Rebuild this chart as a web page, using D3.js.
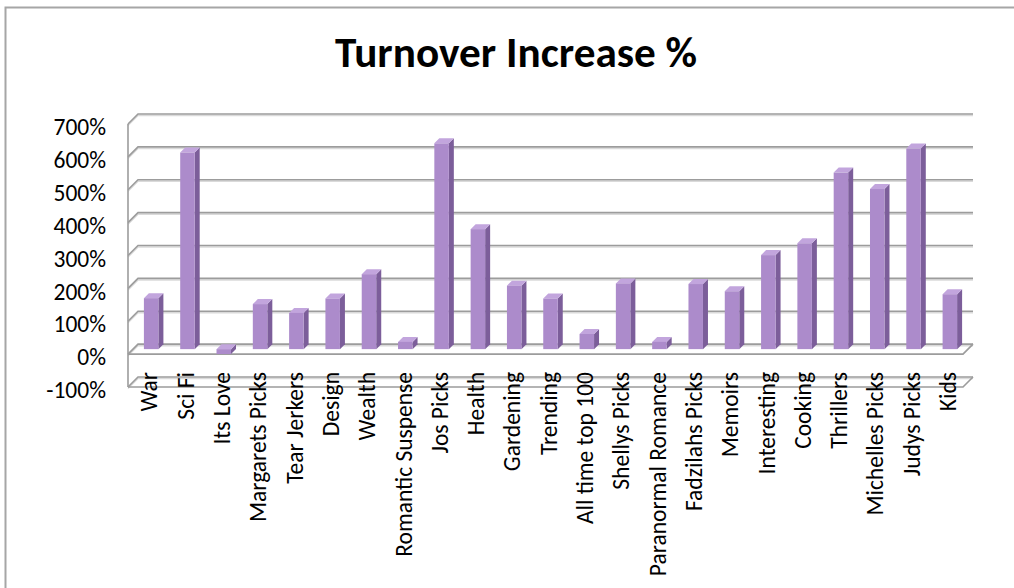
<!DOCTYPE html>
<html>
<head>
<meta charset="utf-8">
<script src="https://cdn.jsdelivr.net/npm/d3@7"></script>
<style>
  body { margin: 0; background: #fff; }
  text { font-family: Calibri, Carlito, "Open Sans", sans-serif; fill: #000; }
</style>
</head>
<body>
<svg id="chart" width="1014" height="588"></svg>
<script>
var categories = ["War", "Sci Fi", "Its Love", "Margarets Picks", "Tear Jerkers", "Design", "Wealth",
  "Romantic Suspense", "Jos Picks", "Health", "Gardening", "Trending", "All time top 100", "Shellys Picks",
  "Paranormal Romance", "Fadzilahs Picks", "Memoirs", "Interesting", "Cooking", "Thrillers",
  "Michelles Picks", "Judys Picks", "Kids"]
var increase = [155, 598, -15, 137, 110, 154, 228, 22, 626, 365, 193, 154, 46, 200, 22, 198, 176, 286, 322,
  537, 487, 610, 167]
var yTicks = [-100, 0, 100, 200, 300, 400, 500, 600, 700]
var title = "Turnover Increase %"

var svg = d3.select("#chart")

// depth offset of the 3d box: front is left and down of the back wall
var dx = -10, dy = 10
var backLeft = 138, backRight = 973

var y = d3.scaleLinear().domain([-100, 700]).range([377, 114])
var x = d3.scaleBand().domain(categories).range([backLeft, backRight])

// outer border
svg.append("rect")
  .attr("x", 5.5).attr("y", 7.5)
  .attr("width", 1030).attr("height", 600)
  .attr("fill", "none")
  .attr("stroke", "#a6a6a6")
  .attr("stroke-width", 2)

svg.append("text")
  .attr("x", 516)
  .attr("y", 67)
  .attr("text-anchor", "middle")
  .attr("font-weight", "bold")
  .attr("font-size", 43)
  .attr("textLength", 362)
  .attr("lengthAdjust", "spacingAndGlyphs")
  .text(title)

var grid = svg.append("g").attr("class", "grid")

function gridPath(v) {
  return "M" + backRight + "," + y(v) + "L" + backLeft + "," + y(v) +
    "L" + (backLeft + dx) + "," + (y(v) + dy)
}

// soft shadow under each line, then the line
grid.selectAll("path.shadow")
  .data(yTicks)
  .enter()
  .append("path")
  .attr("class", "shadow")
  .attr("d", gridPath)
  .attr("transform", "translate(0,1.5)")
  .attr("fill", "none")
  .attr("stroke", "#dadada")
  .attr("stroke-width", 1.5)

grid.selectAll("path.line")
  .data(yTicks)
  .enter()
  .append("path")
  .attr("class", "line")
  .attr("d", gridPath)
  .attr("fill", "none")
  .attr("stroke", "#9c9c9c")
  .attr("stroke-width", 1.6)

// left wall front edge, floor, and the category axis at 0
var edges = [
  "M" + (backLeft + dx) + "," + (y(700) + dy) + "L" + (backLeft + dx) + "," + (y(-100) + dy),
  "M" + (backLeft + dx) + "," + (y(-100) + dy) + "L" + (backRight + dx) + "," + (y(-100) + dy) +
    "L" + backRight + "," + y(-100),
  "M" + (backLeft + dx) + "," + (y(0) + dy) + "L" + (backRight + dx) + "," + (y(0) + dy) +
    "L" + backRight + "," + y(0)
]
grid.selectAll("path.edge")
  .data(edges)
  .enter()
  .append("path")
  .attr("class", "edge")
  .attr("d", function(d) { return d })
  .attr("fill", "none")
  .attr("stroke", "#9c9c9c")
  .attr("stroke-width", 1.6)

svg.append("g")
  .selectAll("text")
  .data(yTicks)
  .enter()
  .append("text")
  .attr("x", 106)
  .attr("y", function(d) { return y(d) + 13 })
  .attr("dy", "0.35em")
  .attr("text-anchor", "end")
  .attr("font-size", 23.5)
  .text(function(d) { return d + "%" })

// bars: front face half way into the box, depth of 5px
var bw = 14.5, bd = 5
var bars = svg.append("g")
  .selectAll("g")
  .data(categories.map(function(c, i) { return {name: c, value: increase[i]} }))
  .enter()
  .append("g")
  .attr("transform", function(d) {
    return "translate(" + (x(d.name) + x.bandwidth() / 2 + dx / 2 - bw / 2) + "," + dy / 2 + ")"
  })

function barTop(d) { return y(Math.max(0, d.value)) }
function barBottom(d) { return y(Math.min(0, d.value)) }

bars.append("path")
  .attr("d", function(d) {
    return "M" + bw + "," + barTop(d) + "L" + (bw + bd) + "," + (barTop(d) - bd) +
      "L" + (bw + bd) + "," + (barBottom(d) - bd) + "L" + bw + "," + barBottom(d) + "Z"
  })
  .attr("fill", "#7c5e9a")

bars.append("path")
  .attr("d", function(d) {
    return "M0," + barTop(d) + "L" + bd + "," + (barTop(d) - bd) + "L" + (bw + bd) + "," + (barTop(d) - bd) +
      "L" + bw + "," + barTop(d) + "Z"
  })
  .attr("fill", "#c2a5dd")

bars.append("rect")
  .attr("x", 0)
  .attr("y", barTop)
  .attr("width", bw)
  .attr("height", function(d) { return barBottom(d) - barTop(d) })
  .attr("fill", "#ac8bcb")

// category labels, rotated
svg.append("g")
  .selectAll("text")
  .data(categories)
  .enter()
  .append("text")
  .attr("transform", function(d) {
    return "translate(" + (x(d) + x.bandwidth() / 2 + dx / 2 - 2) + ",372) rotate(-90)"
  })
  .attr("dy", "0.35em")
  .attr("text-anchor", "end")
  .attr("font-size", 23.5)
  .text(function(d) { return d })
</script>
</body>
</html>
